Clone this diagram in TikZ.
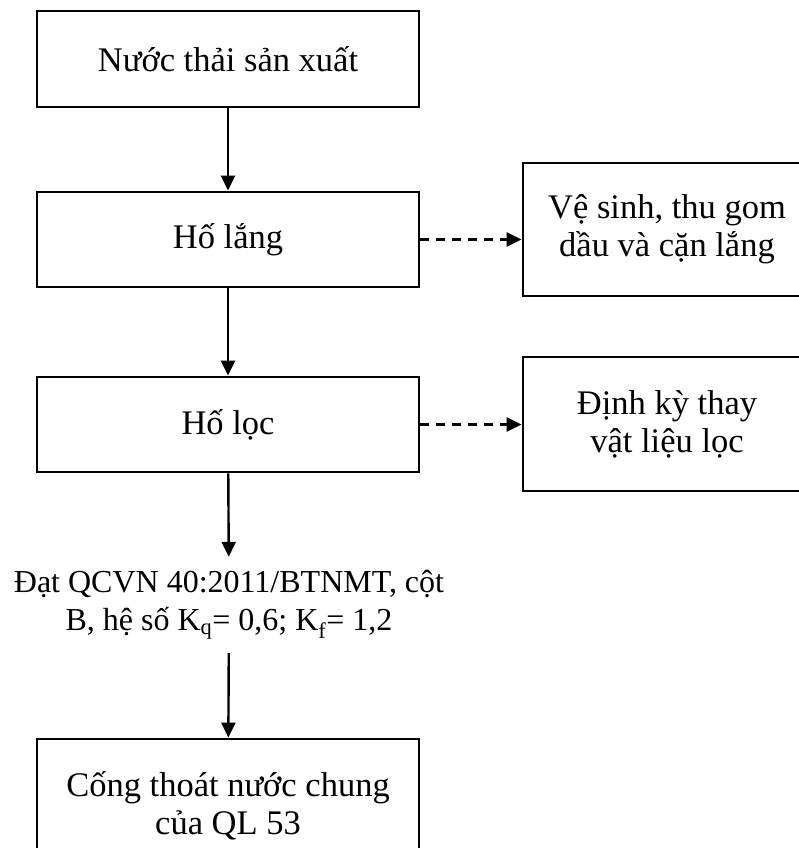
\documentclass[tikz,border=0pt]{standalone}
\usepackage{fontspec}
\setmainfont{Liberation Serif}
\usetikzlibrary{arrows.meta}
\tikzset{
  stepbox/.style={draw, line width=2.8pt, minimum width=382pt, minimum height=95pt, align=center, inner sep=0pt},
  sidebox/.style={draw, line width=2.8pt, minimum width=288pt, minimum height=133pt, align=center, inner sep=0pt},
  flow/.style={line width=2.4pt, -{Triangle[length=15pt,width=14pt]}},
  sideflow/.style={flow, dash pattern=on 9pt off 7pt}
}
\begin{document}
\begin{tikzpicture}[x=1pt, y=-1pt, font=\fontsize{34.5pt}{38pt}\selectfont]
  \useasboundingbox (0, 0) rectangle (799, 848);
  \clip (0, 0) rectangle (799, 848);
  \node[stepbox, minimum height=96pt] (source) at (228, 59) {Nước thải sản xuất};
  \node[stepbox] (settle) at (228, 239.5) {Hố lắng};
  \node[stepbox] (filter) at (228, 424.5) {Hố lọc};
  \node[sidebox] (clean) at (667, 229.5) {Vệ sinh, thu gom\\dầu và cặn lắng};
  \node[sidebox, minimum height=134pt] (replace) at (667, 424) {Định kỳ thay\\vật liệu lọc};
  \node[align=center, inner sep=0pt, minimum height=96pt, font=\fontsize{32pt}{38pt}\selectfont] (limit) at (229, 605)
    {Đạt QCVN 40:2011/BTNMT, cột\\B, hệ số K\textsubscript{q}= 0,6; K\textsubscript{f}= 1,2};
  \node[stepbox, minimum height=134pt] (sewer) at (228, 806) {Cống thoát nước chung\\của QL 53};
  \draw[flow] (source) -- (settle);
  \draw[flow] (settle) -- (filter);
  \draw[flow] (filter) -- (limit);
  \draw[flow] (limit) -- (sewer);
  \draw[sideflow] (settle.east) -- (settle.east -| clean.west);
  \draw[sideflow] (filter.east) -- (filter.east -| replace.west);
\end{tikzpicture}
\end{document}
